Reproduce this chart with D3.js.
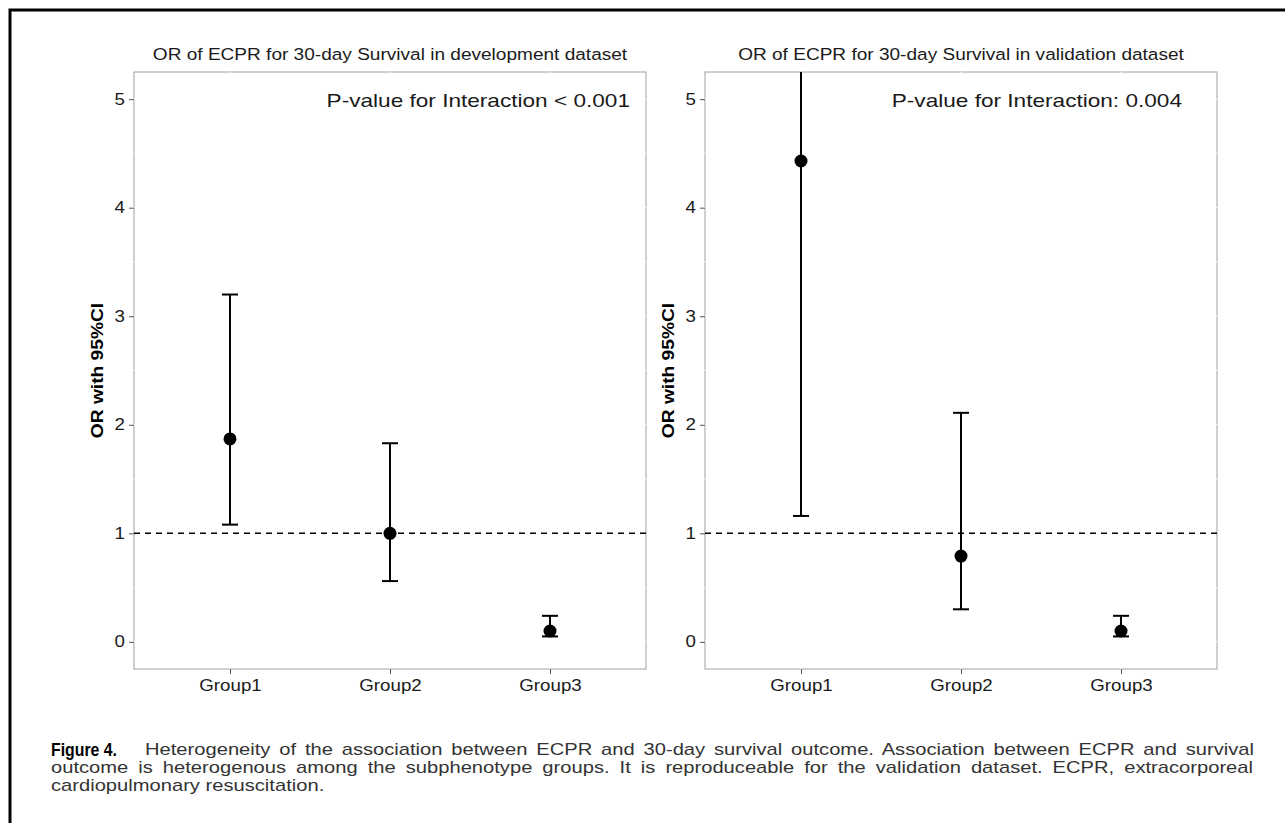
<!DOCTYPE html>
<html>
<head>
<meta charset="utf-8">
<script src="https://cdn.jsdelivr.net/npm/d3@7"></script>
<style>
  html, body { margin: 0; padding: 0; background: #fff; }
  svg { display: block; font-family: 'Liberation Sans', Arial, Helvetica, sans-serif; }
  .frame { fill: none; stroke: #000; stroke-width: 3; }
  .panel-border { fill: none; stroke: #a0a0a0; stroke-width: 1; }
  .grid-gap { stroke: #fff; stroke-width: 1; }
  .tick line { stroke: #555; }
  .tick text { fill: #1a1a1a; font-size: 16px; font-family: 'Liberation Sans', Arial, sans-serif; }
  .ref { stroke: #000; stroke-width: 1.5; stroke-dasharray: 6,5; }
  .bar { stroke: #000; stroke-width: 2; }
  .dot { fill: #000; }
  .title { font-size: 16.3px; fill: #1a1a1a; }
  .ytitle { font-size: 16px; font-weight: bold; fill: #000; }
  .pval { font-size: 19px; fill: #1a1a1a; }
  .caption { font-size: 16px; fill: #333; }
  .fig { font-size: 18px; font-weight: bold; fill: #000; }
</style>
</head>
<body>
<div id="chart"></div>
<script>
(function() {
  'use strict';

  // chart values
  var groups = [ 'Group1', 'Group2', 'Group3' ];
  var yTicks = [ 0, 1, 2, 3, 4, 5 ];

  var devOR = [ 1.87, 1.00, 0.10 ],
      devLower = [ 1.08, 0.56, 0.05 ],
      devUpper = [ 3.20, 1.83, 0.24 ];

  // upper limit of Group1 runs off the top of the panel
  var valOR = [ 4.43, 0.79, 0.10 ],
      valLower = [ 1.16, 0.30, 0.05 ],
      valUpper = [ 8.50, 2.11, 0.24 ];

  var panelTitles = [
    'OR of ECPR for 30-day Survival in development dataset',
    'OR of ECPR for 30-day Survival in validation dataset'
  ];
  var pvalLabels = [
    'P-value for Interaction < 0.001',
    'P-value for Interaction: 0.004'
  ];
  var yLabel = 'OR with 95%CI';

  var figLabel = 'Figure 4.';
  var captionLines = [
    'Heterogeneity of the association between ECPR and 30-day survival outcome. Association between ECPR and survival',
    'outcome is heterogenous among the subphenotype groups. It is reproduceable for the validation dataset. ECPR, extracorporeal',
    'cardiopulmonary resuscitation.'
  ];

  var width = 1285,
      height = 823,
      panelW = 512,
      panelTop = 72,
      panelBottom = 669,
      panelLefts = [ 134, 705 ],
      pvalRight = [ 630, 1182 ],
      stretch = 1.17;   // the source font runs wider than Liberation Sans

  var svg = d3.select( '#chart' )
    .append( 'svg' )
    .attr( 'width', width )
    .attr( 'height', height );

  svg.append( 'rect' )
    .attr( 'class', 'frame' )
    .attr( 'x', 10 )
    .attr( 'y', 10 )
    .attr( 'width', width + 20 )
    .attr( 'height', height + 20 );

  var y = d3.scaleLinear()
    .domain( [ -0.25, 5.25 ] )
    .range( [ panelBottom, panelTop ] );

  function rows( est, lo, hi ) {
    return groups.map(function( g, i ) {
      return { group: g, est: est[i], lo: lo[i], hi: hi[i] };
    });
  }

  function placeText( sel, x, yy, s, rot ) {
    return sel
      .attr( 'x', 0 )
      .attr( 'y', 0 )
      .attr( 'transform', 'translate(' + x + ',' + yy + ')' +
        ( rot ? ' rotate(' + rot + ')' : '' ) + ' scale(' + s + ',1)' );
  }

  // spread (or squeeze) the words so a caption line ends at the right margin
  function justify( sel, w ) {
    var natural = sel.node().getComputedTextLength(),
        spaces = sel.text().split( ' ' ).length - 1;
    if ( spaces > 0 ) {
      sel.attr( 'word-spacing', ( w - natural ) / spaces );
    }
    return sel;
  }

  var panels = [
    rows( devOR, devLower, devUpper ),
    rows( valOR, valLower, valUpper )
  ];

  panels.forEach(function( data, p ) {
    var left = panelLefts[p],
        g,
        x,
        plot,
        clipId = 'clip' + p;

    x = d3.scalePoint()
      .domain( groups )
      .range( [ left, left + panelW ] )
      .padding( 0.6 );

    g = svg.append( 'g' );

    svg.append( 'clipPath' )
      .attr( 'id', clipId )
      .append( 'rect' )
      .attr( 'x', left )
      .attr( 'y', panelTop )
      .attr( 'width', panelW )
      .attr( 'height', panelBottom - panelTop );

    g.append( 'rect' )
      .attr( 'class', 'panel-border' )
      .attr( 'x', left )
      .attr( 'y', panelTop )
      .attr( 'width', panelW )
      .attr( 'height', panelBottom - panelTop );

    // white grid lines only show where they cross the border
    var minor = d3.range( -0.5, 5.6, 0.5 );
    g.selectAll( '.gy' )
      .data( minor )
      .enter().append( 'line' )
      .attr( 'class', 'grid-gap' )
      .attr( 'x1', left - 0.5 )
      .attr( 'x2', left + panelW + 0.5 )
      .attr( 'y1', function( d ) { return y( d ); })
      .attr( 'y2', function( d ) { return y( d ); });

    g.selectAll( '.gx' )
      .data( groups )
      .enter().append( 'line' )
      .attr( 'class', 'grid-gap' )
      .attr( 'x1', function( d ) { return x( d ); })
      .attr( 'x2', function( d ) { return x( d ); })
      .attr( 'y1', panelTop - 0.5 )
      .attr( 'y2', panelBottom + 0.5 );

    var yAxis = g.append( 'g' )
      .attr( 'transform', 'translate(' + left + ',0)' )
      .call( d3.axisLeft( y ).tickValues( yTicks ).tickFormat( d3.format( 'd' ) )
        .tickSize( 5 ).tickPadding( 4 ) );
    yAxis.select( '.domain' ).remove();
    yAxis.selectAll( '.tick text' ).each(function() {
      var t = d3.select( this ),
          tx = +t.attr( 'x' );
      t.attr( 'x', 0 ).attr( 'transform', 'translate(' + tx + ',0) scale(' + stretch + ',1)' );
    });

    var xAxis = g.append( 'g' )
      .attr( 'transform', 'translate(0,' + panelBottom + ')' )
      .call( d3.axisBottom( x ).tickSize( 5 ).tickPadding( 6 ) );
    xAxis.select( '.domain' ).remove();
    xAxis.selectAll( '.tick text' ).attr( 'transform', 'scale(' + stretch + ',1)' );

    plot = g.append( 'g' ).attr( 'clip-path', 'url(#' + clipId + ')' );

    plot.append( 'line' )
      .attr( 'class', 'ref' )
      .attr( 'x1', left )
      .attr( 'x2', left + panelW )
      .attr( 'y1', y( 1 ) )
      .attr( 'y2', y( 1 ) );

    var bars = plot.selectAll( '.ci' )
      .data( data )
      .enter().append( 'g' );

    bars.append( 'line' )
      .attr( 'class', 'bar' )
      .attr( 'x1', function( d ) { return x( d.group ); })
      .attr( 'x2', function( d ) { return x( d.group ); })
      .attr( 'y1', function( d ) { return y( d.lo ); })
      .attr( 'y2', function( d ) { return y( d.hi ); });

    [ 'lo', 'hi' ].forEach(function( k ) {
      bars.append( 'line' )
        .attr( 'class', 'bar' )
        .attr( 'x1', function( d ) { return x( d.group ) - 8; })
        .attr( 'x2', function( d ) { return x( d.group ) + 8; })
        .attr( 'y1', function( d ) { return y( d[k] ); })
        .attr( 'y2', function( d ) { return y( d[k] ); });
    });

    bars.append( 'circle' )
      .attr( 'class', 'dot' )
      .attr( 'r', 6.5 )
      .attr( 'cx', function( d ) { return x( d.group ); })
      .attr( 'cy', function( d ) { return y( d.est ); });

    placeText( g.append( 'text' ), left + panelW / 2, 60, stretch )
      .attr( 'class', 'title' )
      .attr( 'text-anchor', 'middle' )
      .text( panelTitles[p] );

    placeText( g.append( 'text' ), pvalRight[p], 107, 1.19 )
      .attr( 'class', 'pval' )
      .attr( 'text-anchor', 'end' )
      .text( pvalLabels[p] );

    placeText( g.append( 'text' ), left - 31, ( panelTop + panelBottom ) / 2, 1.2, -90 )
      .attr( 'class', 'ytitle' )
      .attr( 'text-anchor', 'middle' )
      .text( yLabel );
  });

  // caption
  var cap = svg.append( 'g' ).attr( 'class', 'caption' );
  var cs = 1.26;

  placeText( cap.append( 'text' ), 51, 756, 0.88 )
    .attr( 'class', 'fig' )
    .text( figLabel );

  justify( placeText( cap.append( 'text' ), 145, 755, cs )
    .text( captionLines[0] ), ( 1254 - 145 ) / cs );

  justify( placeText( cap.append( 'text' ), 51, 773, cs )
    .text( captionLines[1] ), ( 1253 - 51 ) / cs );

  placeText( cap.append( 'text' ), 51, 791, cs )
    .text( captionLines[2] );
})();
</script>
</body>
</html>
